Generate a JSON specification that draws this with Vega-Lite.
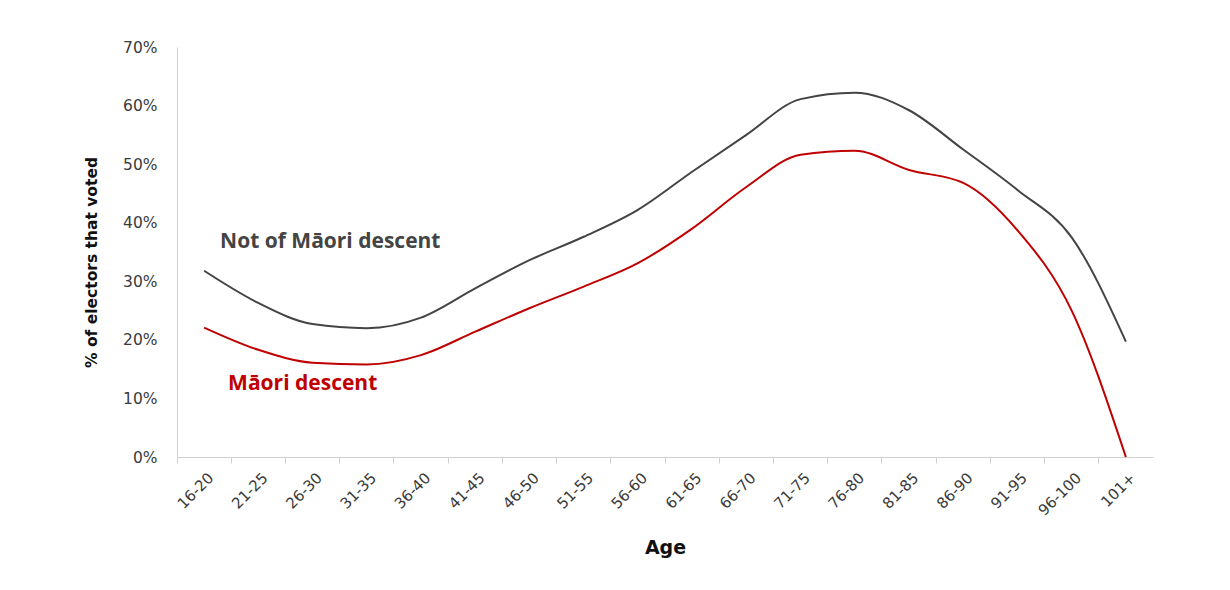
{
  "$schema": "https://vega.github.io/schema/vega-lite/v6.json",
  "width": 976,
  "height": 410,
  "autosize": {"type": "none"},
  "padding": {"left": 177, "top": 47, "right": 77, "bottom": 133},
  "background": "white",
  "config": {"view": {"stroke": null}},
  "datasets": {
    "turnout": [
      {"age": "16-20", "group": "Not of Māori descent", "pct": 31.8},
      {"age": "21-25", "group": "Not of Māori descent", "pct": 26.3},
      {"age": "26-30", "group": "Not of Māori descent", "pct": 22.7},
      {"age": "31-35", "group": "Not of Māori descent", "pct": 22.0},
      {"age": "36-40", "group": "Not of Māori descent", "pct": 23.8},
      {"age": "41-45", "group": "Not of Māori descent", "pct": 28.8},
      {"age": "46-50", "group": "Not of Māori descent", "pct": 33.6},
      {"age": "51-55", "group": "Not of Māori descent", "pct": 37.6},
      {"age": "56-60", "group": "Not of Māori descent", "pct": 42.2},
      {"age": "61-65", "group": "Not of Māori descent", "pct": 48.7},
      {"age": "66-70", "group": "Not of Māori descent", "pct": 55.0},
      {"age": "71-75", "group": "Not of Māori descent", "pct": 61.1},
      {"age": "76-80", "group": "Not of Māori descent", "pct": 62.2},
      {"age": "81-85", "group": "Not of Māori descent", "pct": 59.2},
      {"age": "86-90", "group": "Not of Māori descent", "pct": 52.5},
      {"age": "91-95", "group": "Not of Māori descent", "pct": 45.6},
      {"age": "96-100", "group": "Not of Māori descent", "pct": 37.5},
      {"age": "101+", "group": "Not of Māori descent", "pct": 19.7},
      {"age": "16-20", "group": "Māori descent", "pct": 22.1},
      {"age": "21-25", "group": "Māori descent", "pct": 18.3},
      {"age": "26-30", "group": "Māori descent", "pct": 16.1},
      {"age": "31-35", "group": "Māori descent", "pct": 15.8},
      {"age": "36-40", "group": "Māori descent", "pct": 17.4},
      {"age": "41-45", "group": "Māori descent", "pct": 21.4},
      {"age": "46-50", "group": "Māori descent", "pct": 25.4},
      {"age": "51-55", "group": "Māori descent", "pct": 29.1},
      {"age": "56-60", "group": "Māori descent", "pct": 33.1},
      {"age": "61-65", "group": "Māori descent", "pct": 39.0},
      {"age": "66-70", "group": "Māori descent", "pct": 46.1},
      {"age": "71-75", "group": "Māori descent", "pct": 51.6},
      {"age": "76-80", "group": "Māori descent", "pct": 52.3},
      {"age": "81-85", "group": "Māori descent", "pct": 49.0},
      {"age": "86-90", "group": "Māori descent", "pct": 46.8},
      {"age": "91-95", "group": "Māori descent", "pct": 38.7},
      {"age": "96-100", "group": "Māori descent", "pct": 25.0},
      {"age": "101+", "group": "Māori descent", "pct": 0}
    ],
    "labels": [
      {"age": "16-20", "group": "Not of Māori descent", "pct": 36.7},
      {"age": "16-20", "group": "Māori descent", "pct": 12.4}
    ]
  },
  "layer": [
    {
      "data": {"name": "turnout"},
      "mark": {"type": "line", "interpolate": "monotone", "strokeWidth": 2},
      "encoding": {
        "x": {
          "field": "age", "type": "ordinal", "sort": null,
          "scale": {"type": "band", "paddingInner": 0, "paddingOuter": 0},
          "axis": {
            "title": "Age",
            "bandPosition": 0,
            "labelOffset": 2,
            "labelAngle": -45,
            "labelFont": "DejaVu Sans",
            "labelFontSize": 15,
            "labelColor": "#3a3a3a",
            "labelPadding": 7,
            "domainColor": "#d0d0d0",
            "tickColor": "#d0d0d0",
            "tickSize": 6,
            "titleFont": "DejaVu Sans",
            "titleFontSize": 19,
            "titleFontWeight": "bold",
            "titleColor": "#111111",
            "titlePadding": 20,
            "grid": false
          }
        },
        "y": {
          "field": "pct", "type": "quantitative",
          "scale": {"domain": [0, 70]},
          "axis": {
            "title": "% of electors that voted",
            "values": [0, 10, 20, 30, 40, 50, 60, 70],
            "labelExpr": "datum.value + '%'",
            "labelFont": "DejaVu Sans",
            "labelFontSize": 15.5,
            "labelColor": "#3a3a3a",
            "labelPadding": 20,
            "ticks": false,
            "domainColor": "#d0d0d0",
            "grid": false,
            "titleFont": "DejaVu Sans",
            "titleFontSize": 15.5,
            "titleFontWeight": "bold",
            "titleColor": "#111111",
            "titlePadding": 23,
            "titleY": 215
          }
        },
        "color": {
          "field": "group", "type": "nominal",
          "scale": {"domain": ["Not of Māori descent", "Māori descent"], "range": ["#444444", "#c00000"]},
          "legend": null
        }
      }
    },
    {
      "data": {"name": "labels"},
      "transform": [{"filter": "datum.group == 'Not of Māori descent'"}],
      "mark": {"type": "text", "align": "left", "baseline": "middle", "dx": 16, "font": "Open Sans", "fontSize": 21, "fontWeight": "bold"},
      "encoding": {
        "x": {"field": "age", "type": "ordinal", "sort": null},
        "y": {"field": "pct", "type": "quantitative"},
        "text": {"field": "group"},
        "color": {"field": "group", "type": "nominal", "legend": null}
      }
    },
    {
      "data": {"name": "labels"},
      "transform": [{"filter": "datum.group == 'Māori descent'"}],
      "mark": {"type": "text", "align": "left", "baseline": "middle", "dx": 24, "font": "Open Sans", "fontSize": 21, "fontWeight": "bold"},
      "encoding": {
        "x": {"field": "age", "type": "ordinal", "sort": null},
        "y": {"field": "pct", "type": "quantitative"},
        "text": {"field": "group"},
        "color": {"field": "group", "type": "nominal", "legend": null}
      }
    }
  ]
}
